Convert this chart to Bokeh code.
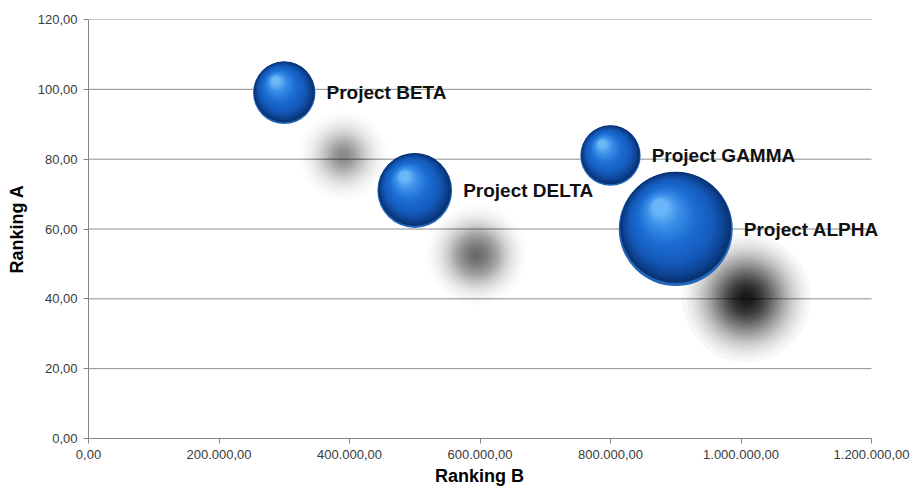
import numpy as np
from bokeh.plotting import figure
from bokeh.models import ColumnDataSource, Range1d, CustomJSTickFormatter, Label, FixedTicker
from bokeh.embed import file_html
from bokeh.resources import INLINE

# ---------------- data ----------------
projects = ["Project ALPHA", "Project BETA", "Project GAMMA", "Project DELTA"]
ranking_b = [900000, 300000, 800000, 500000]   # x
ranking_a = [60, 99, 81, 71]                    # y
bubble_size = [100, 30, 28, 43]                 # bubble size (area)

x_ticks = [0, 200000, 400000, 600000, 800000, 1000000, 1200000]
y_ticks = [0, 20, 40, 60, 80, 100, 120]
title_text = "Project Evaluation & Ranking"
x_label = "Ranking B"
y_label = "Ranking A"

# ---------------- layout ----------------
W, H = 913, 488
FL, FT, FB = 88, 19, 50
AXIS_W = 783                  # pixels spanned by the x axis (0 .. 1.2M)
EXTRA = 34                    # room to the right of the axis for labels
FR = W - FL - AXIS_W - EXTRA
FW, FH = AXIS_W + EXTRA, H - FT - FB
X0, XA = x_ticks[0], x_ticks[-1]
Y0, Y1 = y_ticks[0], y_ticks[-1]
dpx_x = (XA - X0) / AXIS_W    # data units per screen pixel
dpx_y = (Y1 - Y0) / FH
X1 = XA + EXTRA * dpx_x
R_MAX = 57                    # radius (px) of the largest bubble
FONT = "Liberation Sans"

p = figure(width=W, height=H, frame_width=FW, frame_height=FH,
           min_border_left=FL, min_border_right=FR, min_border_top=FT, min_border_bottom=FB,
           x_range=Range1d(X0, X1), y_range=Range1d(Y0, Y1),
           output_backend="svg", toolbar_location=None, tools="")
p.outline_line_color = None
p.background_fill_color = "white"
p.border_fill_color = "white"

fmt = CustomJSTickFormatter(code=r"""
const s = tick.toFixed(2);
const parts = s.split(".");
const ip = parts[0].replace(/\B(?=(\d{3})+(?!\d))/g, ".");
return ip + "," + parts[1];
""")

for ax, ticks, lab in ((p.xaxis[0], x_ticks, x_label), (p.yaxis[0], y_ticks, y_label)):
    ax.ticker = FixedTicker(ticks=ticks)
    ax.formatter = fmt
    ax.axis_line_color = "#868686"
    ax.major_tick_line_color = "#868686"
    ax.major_tick_out = 5
    ax.major_tick_in = 0
    ax.minor_tick_line_color = None
    ax.major_label_text_font = FONT
    ax.major_label_text_font_size = "13px"
    ax.major_label_text_color = "#3a3a3a"
    ax.major_label_standoff = 6
    ax.axis_label = lab
    ax.axis_label_text_font = FONT
    ax.axis_label_text_font_style = "bold"
    ax.axis_label_text_font_size = "18px"
    ax.axis_label_text_color = "#000000"
p.xaxis.bounds = (X0, XA)
# the frame is wider than the axis; pad with no-break spaces so the title sits under the axis centre
p.xaxis.axis_label = x_label + "\u00a0" * 7
p.xaxis.axis_label_standoff = 4
p.yaxis.axis_label_standoff = 8

# horizontal gridlines, limited to the x-axis span
p.xgrid.grid_line_color = None
p.ygrid.grid_line_color = None
p.segment(x0=[X0] * len(y_ticks), x1=[XA] * len(y_ticks), y0=y_ticks, y1=y_ticks,
          line_color="#8c8c8c", line_width=1, level="underlay")

# ---------------- helpers ----------------
def hex2rgb(h):
    h = h.lstrip("#")
    return np.array([int(h[i:i + 2], 16) for i in (0, 2, 4)], float)

stops_t = [0.0, 0.10, 0.28, 0.55, 0.82, 1.0]
stops_c = [hex2rgb(c) for c in ["#09326f", "#0e4392", "#155bbb", "#1c6dd2", "#3c90e8", "#6ab6f7"]]

def grad(t):
    for i in range(len(stops_t) - 1):
        if t <= stops_t[i + 1]:
            f = (t - stops_t[i]) / (stops_t[i + 1] - stops_t[i])
            c = stops_c[i] * (1 - f) + stops_c[i + 1] * f
            return "#%02x%02x%02x" % tuple(int(round(v)) for v in c)
    c = stops_c[-1]
    return "#%02x%02x%02x" % tuple(int(v) for v in c)

r_px = [R_MAX * np.sqrt(s / 100.0) for s in bubble_size]

# ---------------- shadows (soft blur fading to zero) ----------------
sx, sy, ss, sa = [], [], [], []
N_SH = 60
for xb, ya, r, s in zip(ranking_b, ranking_a, r_px, bubble_size):
    offx = 45 + 0.45 * r
    offy = 55 + 0.25 * r
    cx = xb + offx * dpx_x
    cy = ya - offy * dpx_y
    sigma = 0.36 * r + 8
    R_out = 2.5 * sigma
    e0 = np.exp(-R_out ** 2 / (2 * sigma ** 2))
    D = min(0.25 + 0.6 * s / 100.0, 0.9)
    a = 1 - (1 - D) ** (1.0 / N_SH)
    for k in range(1, N_SH + 1):
        inner = 1 - (1 - a) ** k
        g = inner * (1 - e0) / D + e0
        rho = sigma * np.sqrt(max(-2 * np.log(min(g, 1.0)), 0.0))
        rho = max(rho, 1.0)
        sx.append(cx); sy.append(cy); ss.append(2 * rho); sa.append(a)
p.scatter(x="x", y="y", size="s", fill_alpha="a", source=ColumnDataSource(dict(x=sx, y=sy, s=ss, a=sa)),
          marker="circle", fill_color="black", line_color=None)

# ---------------- spheres ----------------
bx, by, bs, bc = [], [], [], []
N_L = 44
hx, hy = -0.28, 0.36   # highlight direction (fraction of radius), y up
for xb, ya, r in zip(ranking_b, ranking_a, r_px):
    # soft light reflection at the bottom rim
    bx.append(xb); by.append(ya); bs.append(2 * r); bc.append("#2266bb")
    base_dy = 0.03 * r
    rb = 0.975 * r
    for k in range(N_L):
        t = k / (N_L - 1)
        cx = xb + hx * t * rb * dpx_x
        cy = ya + (base_dy + hy * t * rb) * dpx_y
        rr = rb * (1 - 0.86 * t)
        bx.append(cx); by.append(cy); bs.append(2 * rr); bc.append(grad(t))
p.scatter(x="x", y="y", size="s", fill_color="c", source=ColumnDataSource(dict(x=bx, y=by, s=bs, c=bc)),
          marker="circle", line_color=None)

# ---------------- labels ----------------
for name, xv, yv, r in zip(projects, ranking_b, ranking_a, r_px):
    p.add_layout(Label(x=xv, y=yv, text=name, x_offset=r + 11,
                       text_align="left", text_baseline="middle",
                       text_font=FONT, text_font_style="bold", text_font_size="19px",
                       text_color="#111111"))

# title, cut off at the top edge as in the original
title = Label(x=X0 + (W / 2 - FL) * dpx_x, y=Y1 + (FT - 1) * dpx_y, text=title_text,
              text_align="center", text_baseline="alphabetic",
              text_font=FONT, text_font_style="bold", text_font_size="21px", text_color="#000000")
p.add_layout(title)

open("out.html", "w").write(file_html(p, INLINE))
